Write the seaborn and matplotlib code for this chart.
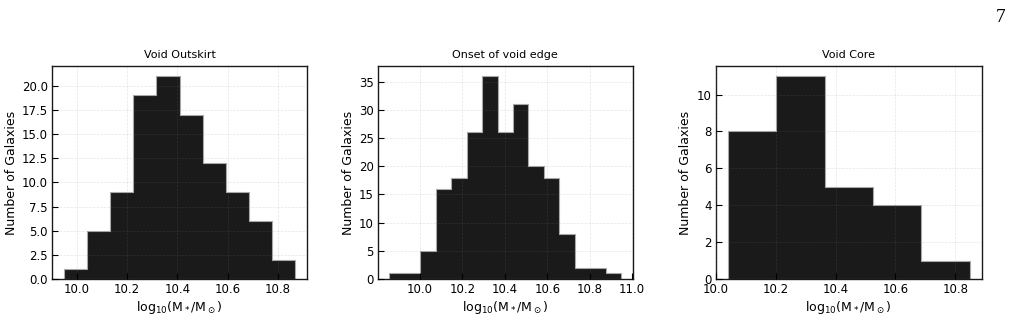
"""
Stellar mass histograms for galaxies in three void regions.
"""

import numpy as np
import pandas as pd
import seaborn as sns
import matplotlib.pyplot as plt

# Panel titles
titles = ['Void Outskirt', 'Onset of void edge', 'Void Core']

# Histogram bin ranges (log10 M*/Msun) and counts
outskirt_range = (9.947, 10.870)
outskirt_counts = [1, 5, 9, 19, 21, 17, 12, 9, 6, 2]

edge_range = (9.856, 10.948)
edge_counts = [1, 1, 5, 16, 18, 26, 36, 26, 31, 20, 18, 8, 2, 2, 1]

core_range = (10.039, 10.848)
core_counts = [8, 11, 5, 4, 1]

ranges = [outskirt_range, edge_range, core_range]
counts = [outskirt_counts, edge_counts, core_counts]
xticks = [np.arange(10.0, 10.81, 0.2), np.arange(10.0, 11.01, 0.2),
          np.arange(10.0, 10.81, 0.2)]
yticks = [np.arange(0, 21, 2.5), np.arange(0, 36, 5), np.arange(0, 11, 2)]
ytick_fmt = ['{:.1f}', '{:.0f}', '{:.0f}']


def main():
    sns.set_style('white')
    plt.rcParams['font.family'] = ['DejaVu Sans']
    plt.rcParams['text.color'] = 'black'
    plt.rcParams['axes.labelcolor'] = 'black'
    plt.rcParams['xtick.color'] = 'black'
    plt.rcParams['ytick.color'] = 'black'

    fig = plt.figure(figsize=(10.11, 3.18), dpi=100)
    lefts = [0.0514, 0.3736, 0.7079]
    widths = [0.2523, 0.2523, 0.2631]
    bottom, top = 0.1226, 0.7925

    for i in range(3):
        ax = fig.add_axes([lefts[i], bottom, widths[i], top - bottom])
        edges = np.linspace(ranges[i][0], ranges[i][1], len(counts[i]) + 1)
        df = pd.DataFrame({'mass': 0.5 * (edges[:-1] + edges[1:]),
                           'n': counts[i]})
        sns.histplot(data=df, x='mass', weights='n', bins=list(edges), ax=ax,
                     element='step', color='#1a1a1a', edgecolor='#a8a8a8',
                     linewidth=0.8, alpha=1)
        ax.set_title(titles[i], fontsize=8)
        ax.set_xlabel(r'$\mathrm{log_{10}(M_*/M_\odot)}$', fontsize=9, labelpad=2)
        ax.set_ylabel('Number of Galaxies', fontsize=9, labelpad=3)
        ax.set_xticks(xticks[i])
        ax.set_xticklabels(['{:.1f}'.format(v) for v in xticks[i]])
        ax.set_yticks(yticks[i])
        ax.set_yticklabels([ytick_fmt[i].format(v) for v in yticks[i]])
        ax.tick_params(direction='in', labelsize=8.5, length=4, width=0.8,
                       left=True, bottom=True, pad=3)
        ax.grid(True, color='0.5', alpha=0.2, linestyle='--', linewidth=0.5)
        ax.set_axisbelow(False)
        for s in ax.spines.values():
            s.set_color('0.1')
            s.set_linewidth(1.0)

    fig.text(0.995, 0.93, '7', fontsize=14, family='Liberation Serif', ha='right')

    plt.savefig('out.png', dpi=100)


if __name__ == "__main__":
    main()
